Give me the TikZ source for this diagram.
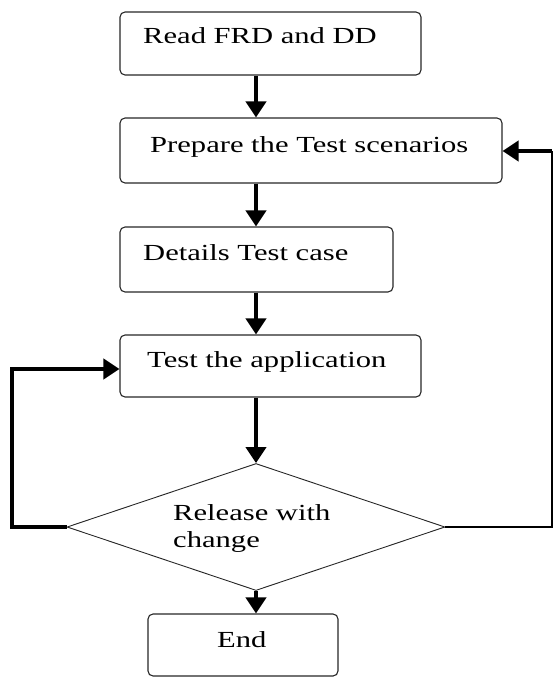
\documentclass[tikz,border=0pt]{standalone}
\usepackage{fontspec}
\setmainfont[FakeStretch=1.33]{Liberation Serif}
\usetikzlibrary{arrows.meta,shapes.geometric}
\begin{document}
\begin{tikzpicture}[x=1pt,y=-1pt,
  box/.style={draw=black!85, line width=1.1pt, rounded corners=5pt, inner sep=0pt, rectangle},
  dec/.style={draw=black!85, line width=0.9pt, diamond, inner sep=0pt},
  txt/.style={inner sep=0pt, font=\fontsize{23}{27}\selectfont, align=left},
  arr/.style={line width=4pt, -{Triangle[length=16pt,width=20pt]}},
  thinline/.style={line width=1.3pt}]
\useasboundingbox (0,0) rectangle (554,677);
% boxes
\node[box, minimum width=301pt, minimum height=63pt] (b1) at (270.5,43.5) {};
\node[box, minimum width=382pt, minimum height=65pt] (b2) at (311,150.5) {};
\node[box, minimum width=273pt, minimum height=65pt] (b3) at (256.5,259.5) {};
\node[box, minimum width=301pt, minimum height=62pt] (b4) at (270.5,366) {};
\node[dec, minimum width=378pt, minimum height=127pt] (d) at (256,527) {};
\node[box, minimum width=190pt, minimum height=62pt] (e) at (243,645) {};
% texts
\node[txt, anchor=base west] (t1) at (143,44) {Read FRD and DD};
\node[txt, anchor=base west] (t2) at (150,152) {Prepare the Test scenarios};
\node[txt, anchor=base west] (t3) at (143,260) {Details Test case};
\node[txt, anchor=base west] (t4) at (147,367) {Test the application};
\node[txt, anchor=base west] (t5) at (173,547) {Release with\\change};
\node[txt, anchor=base west] (t6) at (217,647) {End};
% connectors
\draw[arr] (b1.south -| d.north) -- (b2.north -| d.north);
\draw[arr] (b2.south -| d.north) -- (b3.north -| d.north);
\draw[arr] (b3.south -| d.north) -- (b4.north -| d.north);
\draw[arr] (b4.south -| d.north) -- (d.north);
\draw[arr] (d.south) -- (e.north -| d.south);
\coordinate (lc) at (11.5,369);
\draw[arr] (d.west) -- (d.west -| lc) |- (b4.west |- lc);
\coordinate (rc) at (552,151);
\draw[thinline] (d.east) -| (rc);
\draw[arr] (rc) -- (b2.east |- rc);
\end{tikzpicture}
\end{document}
